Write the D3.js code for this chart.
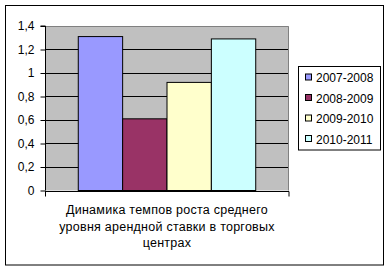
<!DOCTYPE html>
<html>
<head>
<meta charset="utf-8">
<script src="https://cdn.jsdelivr.net/npm/d3@7"></script>
<style>
  html, body { margin: 0; padding: 0; background: #fff; }
  svg { display: block; font-family: Arial, "Liberation Sans", sans-serif; }
</style>
</head>
<body>
<div id="chart"></div>
<script>
// Rental rate growth index by period, shopping centres
const series = ["2007-2008", "2008-2009", "2009-2010", "2010-2011"];
const values = [1.31, 0.61, 0.92, 1.29];
const colors = ["#9999FF", "#993366", "#FFFFCC", "#CCFFFF"];
const yTicks = [0, 0.2, 0.4, 0.6, 0.8, 1, 1.2, 1.4];
const categoryLines = ["Динамика темпов роста среднего", "уровня арендной ставки в торговых", "центрах"];

const W = 390, H = 270;
const plot = { left: 45, right: 289, top: 26, bottom: 190.5 };

const svg = d3.select("#chart").append("svg")
  .attr("width", W).attr("height", H);

// chart frame
svg.append("rect")
  .attr("x", 5.5).attr("y", 5.5)
  .attr("width", 378).attr("height", 259.5)
  .attr("fill", "#fff").attr("stroke", "#000").attr("stroke-width", 1);

const y = d3.scaleLinear().domain([0, 1.4]).range([plot.bottom, plot.top]);

// single category with grouped series (gap width 150%)
const x0 = d3.scaleBand().domain(["c"]).range([plot.left, plot.right]).paddingInner(0).paddingOuter(0);
const groupW = x0.bandwidth() * 4 / 5.5;
const x1 = d3.scaleBand().domain(series)
  .range([x0("c") + (x0.bandwidth() - groupW) / 2, x0("c") + (x0.bandwidth() + groupW) / 2])
  .padding(0);

// plot area
svg.append("rect")
  .attr("x", plot.left).attr("y", plot.top)
  .attr("width", plot.right - plot.left).attr("height", plot.bottom - plot.top)
  .attr("fill", "#C0C0C0");

// gridlines
svg.append("g").selectAll("line")
  .data(yTicks.filter(t => t > 0 && t < 1.4))
  .join("line")
  .attr("x1", plot.left).attr("x2", plot.right)
  .attr("y1", d => Math.round(y(d)) + 0.5).attr("y2", d => Math.round(y(d)) + 0.5)
  .attr("stroke", "#000").attr("stroke-width", 1);

// plot border (top/right in grey)
svg.append("path")
  .attr("d", `M${plot.left},${plot.top + 0.5}H${plot.right - 0.5}V${plot.bottom}`)
  .attr("fill", "none").attr("stroke", "#808080").attr("stroke-width", 1);

// bars
svg.append("g").selectAll("rect")
  .data(series)
  .join("rect")
  .attr("x", (d) => x1(d))
  .attr("y", (d, i) => y(values[i]))
  .attr("width", x1.bandwidth())
  .attr("height", (d, i) => y(0) - y(values[i]))
  .attr("fill", (d, i) => colors[i])
  .attr("stroke", "#000").attr("stroke-width", 1);

// y axis
const fmt = d => String(d).replace(".", ",");
const yAxis = d3.axisLeft(y).tickValues(yTicks).tickFormat(fmt).tickSize(5).tickPadding(6);
const gy = svg.append("g").attr("transform", `translate(${plot.left + 0.5},0)`).call(yAxis);
gy.select(".domain").attr("stroke", "#000").attr("d", `M-5,${plot.top}H0V${plot.bottom}`);
gy.selectAll(".tick line").attr("stroke", "#000");
gy.selectAll(".tick text").attr("font-size", 12).attr("fill", "#000")
  .attr("font-family", "Arial, 'Liberation Sans', sans-serif");

// x axis
const xAxis = d3.axisBottom(x0).tickFormat("").tickSize(0);
const gx = svg.append("g").attr("transform", `translate(0,${Math.round(plot.bottom) + 0.5})`).call(xAxis);
gx.select(".domain").attr("stroke", "#000").attr("d", `M${plot.left},0H${plot.right}`);
gx.selectAll(".tick").remove();
gx.selectAll(".edge")
  .data([plot.left, plot.right - 0.5])
  .join("line")
  .attr("x1", d => d + 0.5).attr("x2", d => d + 0.5)
  .attr("y1", 0).attr("y2", 5)
  .attr("stroke", "#000");

// category label
const cx = (plot.left + plot.right) / 2;
svg.append("text")
  .attr("x", cx).attr("y", 214)
  .attr("text-anchor", "middle")
  .attr("font-size", 12.5).attr("fill", "#000")
  .attr("letter-spacing", 0.25)
  .selectAll("tspan")
  .data(categoryLines)
  .join("tspan")
  .attr("x", cx)
  .attr("dy", (d, i) => i === 0 ? 0 : 16.5)
  .text(d => d);

// legend
const legend = svg.append("g");
legend.append("rect")
  .attr("x", 298.5).attr("y", 66.5)
  .attr("width", 82).attr("height", 83.5)
  .attr("fill", "#fff").attr("stroke", "#000");
const rows = legend.selectAll("g.row")
  .data(series)
  .join("g")
  .attr("class", "row")
  .attr("transform", (d, i) => `translate(0,${77.5 + i * 20.5})`);
rows.append("rect")
  .attr("x", 305.5).attr("y", -3.5)
  .attr("width", 6).attr("height", 6)
  .attr("fill", (d, i) => colors[i]).attr("stroke", "#000");
rows.append("text")
  .attr("x", 316).attr("y", 4.5)
  .attr("font-size", 12).attr("fill", "#000")
  .text(d => d);
</script>
</body>
</html>
